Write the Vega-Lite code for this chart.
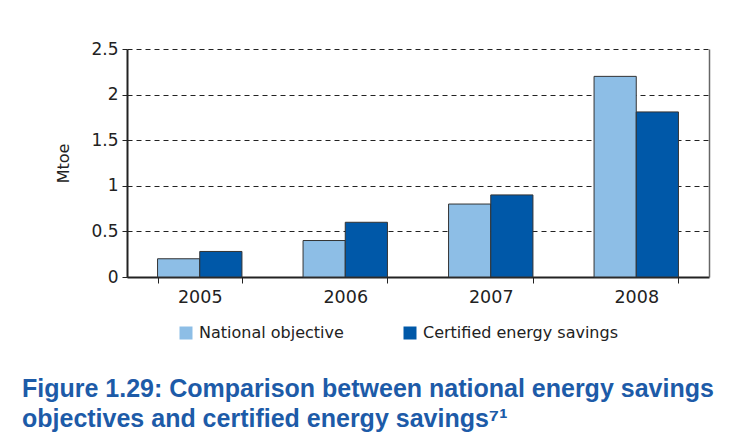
{
  "$schema": "https://vega.github.io/schema/vega-lite/v6.json",
  "width": 582,
  "height": 228,
  "autosize": {"type": "none"},
  "padding": {"left": 127, "top": 49, "right": 46, "bottom": 171},
  "background": "white",
  "data": {
    "values": [
      {"year": "2005", "series": "National objective", "value": 0.2},
      {"year": "2005", "series": "Certified energy savings", "value": 0.28},
      {"year": "2006", "series": "National objective", "value": 0.4},
      {"year": "2006", "series": "Certified energy savings", "value": 0.6},
      {"year": "2007", "series": "National objective", "value": 0.8},
      {"year": "2007", "series": "Certified energy savings", "value": 0.9},
      {"year": "2008", "series": "National objective", "value": 2.2},
      {"year": "2008", "series": "Certified energy savings", "value": 1.81}
    ]
  },
  "title": {
    "text": ["Figure 1.29: Comparison between national energy savings", "objectives and certified energy savings⁷¹"],
    "orient": "bottom",
    "anchor": "start",
    "frame": "group",
    "baseline": "top",
    "offset": 36,
    "dx": -105,
    "font": "Liberation Sans",
    "fontSize": 25,
    "fontWeight": "bold",
    "color": "#1d5ba8",
    "lineHeight": 30
  },
  "config": {
    "view": {"stroke": null},
    "font": "DejaVu Sans"
  },
  "resolve": {"axis": {"y": "independent"}},
  "layer": [
    {
      "mark": {"type": "bar", "stroke": "#333333", "strokeWidth": 1},
      "encoding": {
        "x": {
          "field": "year",
          "type": "nominal",
          "scale": {"paddingInner": 0.42, "paddingOuter": 0.21},
          "axis": {
            "title": null,
            "labelAngle": 0,
            "labelFont": "DejaVu Sans",
            "labelFontSize": 17.5,
            "labelColor": "#222222",
            "labelPadding": 5,
            "tickBand": "extent",
            "tickSize": 6,
            "tickColor": "#222222",
            "domainColor": "#222222",
            "domainWidth": 2
          }
        },
        "xOffset": {
          "field": "series",
          "type": "nominal",
          "sort": ["National objective", "Certified energy savings"],
          "scale": {"paddingInner": 0, "paddingOuter": 0}
        },
        "y": {
          "field": "value",
          "type": "quantitative",
          "scale": {"domain": [0, 2.5], "nice": false},
          "axis": {
            "title": "Mtoe",
            "titleFont": "DejaVu Sans",
            "titleFontSize": 16,
            "titleFontWeight": "normal",
            "titleColor": "#222222",
            "titleX": -56,
            "titleY": 114,
            "values": [0, 0.5, 1, 1.5, 2, 2.5],
            "labelExpr": "'' + datum.value",
            "labelFont": "DejaVu Sans",
            "labelFontSize": 17,
            "labelColor": "#222222",
            "labelPadding": 4,
            "tickSize": 5,
            "tickColor": "#222222",
            "domainColor": "#222222",
            "domainWidth": 2,
            "grid": true,
            "gridColor": "#222222",
            "gridDash": [5, 4],
            "gridWidth": 1,
            "gridOpacity": 1
          }
        },
        "color": {
          "field": "series",
          "type": "nominal",
          "sort": ["National objective", "Certified energy savings"],
          "scale": {"domain": ["National objective", "Certified energy savings"], "range": ["#8dbee6", "#0058a8"]},
          "legend": {
            "title": null,
            "orient": "none",
            "direction": "horizontal",
            "legendX": 51,
            "legendY": 276,
            "padding": 0,
            "symbolType": "square",
            "symbolSize": 169,
            "symbolStrokeWidth": 0,
            "symbolOpacity": 1,
            "labelFont": "DejaVu Sans",
            "labelFontSize": 16,
            "labelColor": "#222222",
            "labelOffset": 5,
            "labelLimit": 500,
            "columnPadding": 58
          }
        }
      }
    },
    {
      "mark": {"type": "point", "opacity": 0},
      "encoding": {
        "y": {
          "field": "value",
          "type": "quantitative",
          "scale": {"domain": [0, 2.5], "nice": false},
          "axis": {
            "orient": "right",
            "title": null,
            "labels": false,
            "ticks": false,
            "grid": false,
            "domainColor": "#666666",
            "domainWidth": 1.5
          }
        }
      }
    }
  ]
}
